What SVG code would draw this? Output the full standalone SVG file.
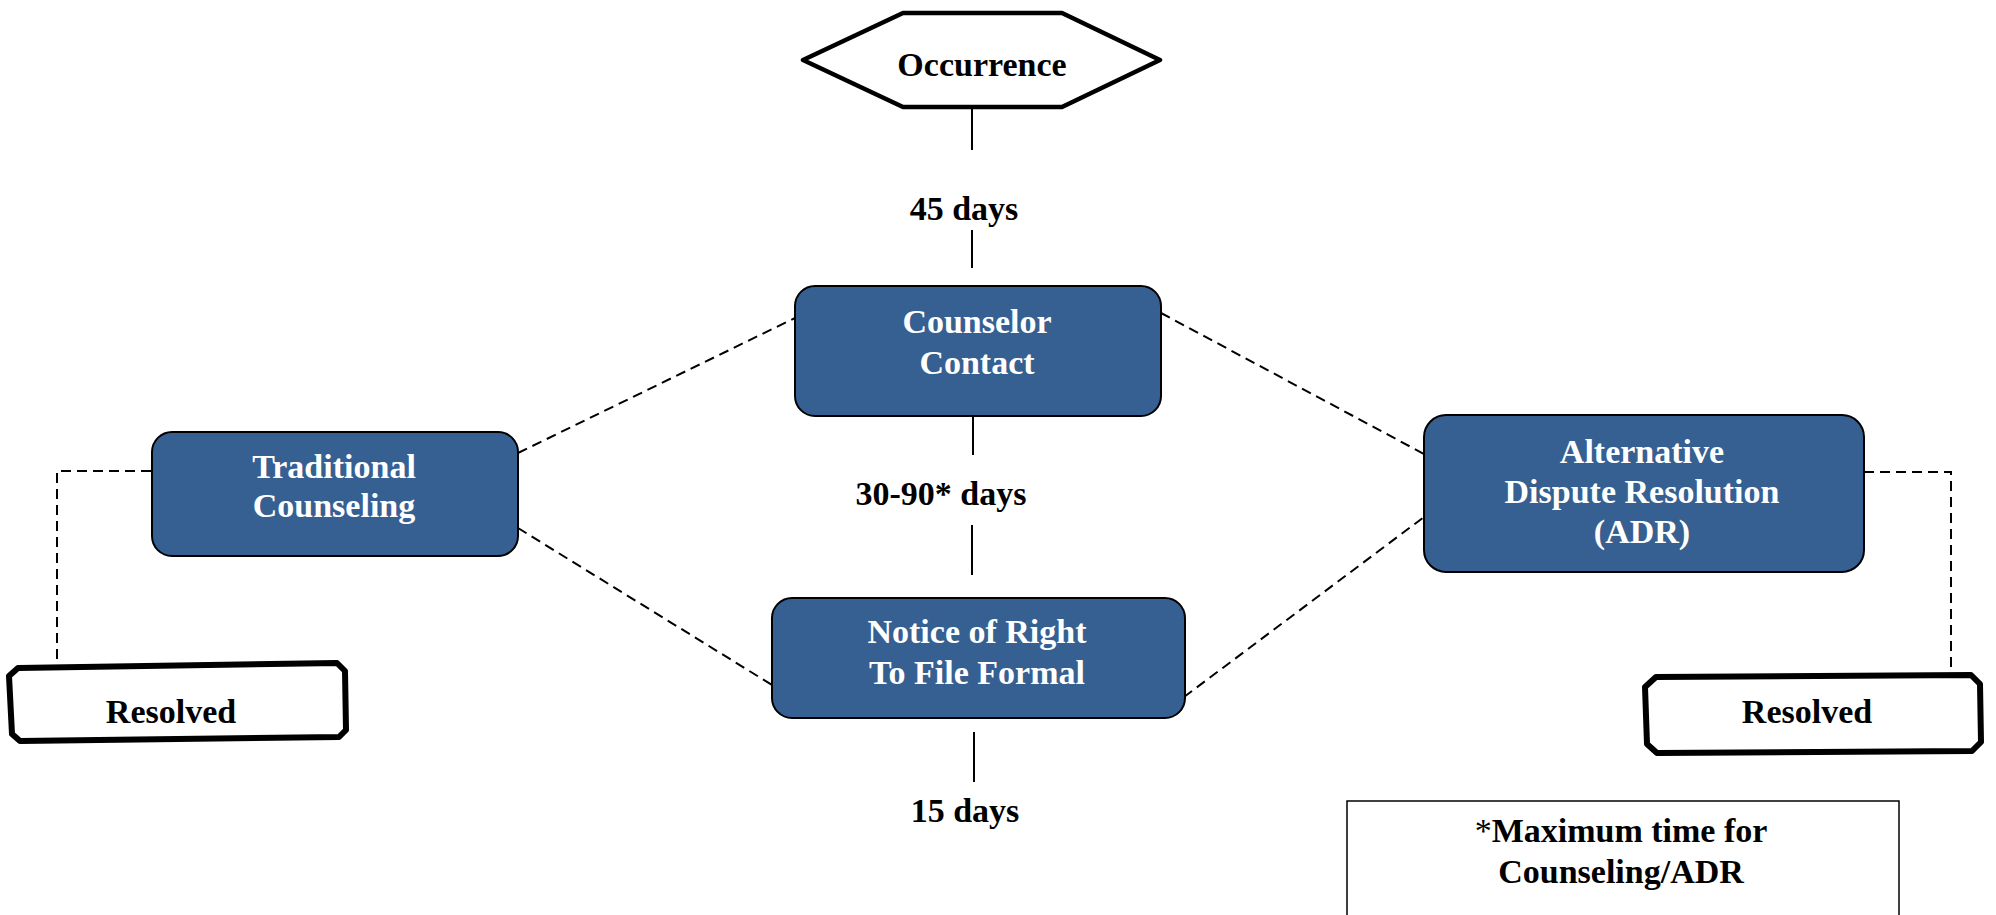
<svg xmlns="http://www.w3.org/2000/svg" width="1996" height="915" viewBox="0 0 1996 915">
<style>
text{font-family:"Liberation Serif","Times New Roman",serif;font-weight:bold;font-size:34px;text-anchor:middle;fill:#000}
.w{fill:#fff}
.blue{fill:#376092;stroke:#000;stroke-width:2}
.res{fill:#fff;stroke:#000;stroke-width:6;stroke-linejoin:round}
.solid{stroke:#000;stroke-width:2;fill:none}
.dash{stroke:#000;stroke-width:2;fill:none;stroke-dasharray:10 6}
</style>
<rect width="1996" height="915" fill="#fff"/>
<g id="connectors">
<line class="solid" x1="972" y1="108" x2="972" y2="150"/>
<line class="solid" x1="972" y1="230" x2="972" y2="268"/>
<line class="solid" x1="973" y1="416" x2="973" y2="455"/>
<line class="solid" x1="972" y1="525" x2="972" y2="575"/>
<line class="solid" x1="974" y1="732" x2="974" y2="782"/>
<line class="dash" x1="518" y1="453" x2="795" y2="318"/>
<line class="dash" x1="518" y1="528" x2="772" y2="685"/>
<line class="dash" x1="1161" y1="313" x2="1424" y2="454"/>
<line class="dash" x1="1184" y1="697" x2="1424" y2="517"/>
<polyline class="dash" points="151,471 57,471 57,665"/>
<polyline class="dash" points="1864,472 1951,472 1951,673"/>
</g>
<g id="occurrence">
<polygon points="803,60 903,13 1062,13 1160,60 1062,107 903,107" fill="#fff" stroke="#000" stroke-width="4.5" stroke-linejoin="round"/>
<text x="982" y="76">Occurrence</text>
</g>
<g id="label-45"><text x="964" y="220">45 days</text></g>
<g id="counselor-contact">
<rect class="blue" x="795" y="286" width="366" height="130" rx="20"/>
<text class="w" x="977" y="333">Counselor</text>
<text class="w" x="977" y="374">Contact</text>
</g>
<g id="label-3090"><text x="941" y="505">30-90* days</text></g>
<g id="notice">
<rect class="blue" x="772" y="598" width="413" height="120" rx="20"/>
<text class="w" x="977" y="643">Notice of Right</text>
<text class="w" x="977" y="684">To File Formal</text>
</g>
<g id="label-15"><text x="965" y="822">15 days</text></g>
<g id="traditional">
<rect class="blue" x="152" y="432" width="366" height="124" rx="20"/>
<text class="w" x="334" y="478">Traditional</text>
<text class="w" x="334" y="517">Counseling</text>
</g>
<g id="adr">
<rect class="blue" x="1424" y="415" width="440" height="157" rx="22"/>
<text class="w" x="1642" y="463">Alternative</text>
<text class="w" x="1642" y="503">Dispute Resolution</text>
<text class="w" x="1642" y="543">(ADR)</text>
</g>
<g id="resolved-left">
<path class="res" d="M18,668 L337,663 L345,671 L346,730 L339,737 L20,741 L12,734 L9,676 Z"/>
<text x="171" y="723">Resolved</text>
</g>
<g id="resolved-right">
<path class="res" d="M1656,677 L1971,675 L1980,684 L1981,742 L1972,751 L1657,753 L1647,744 L1645,687 Z"/>
<text x="1807" y="723">Resolved</text>
</g>
<g id="footnote">
<rect x="1347" y="801" width="552" height="140" fill="#fff" stroke="#000" stroke-width="1.5"/>
<text x="1621" y="842"><tspan font-weight="normal">*</tspan>Maximum time for</text>
<text x="1621" y="883">Counseling/ADR</text>
</g>
</svg>
